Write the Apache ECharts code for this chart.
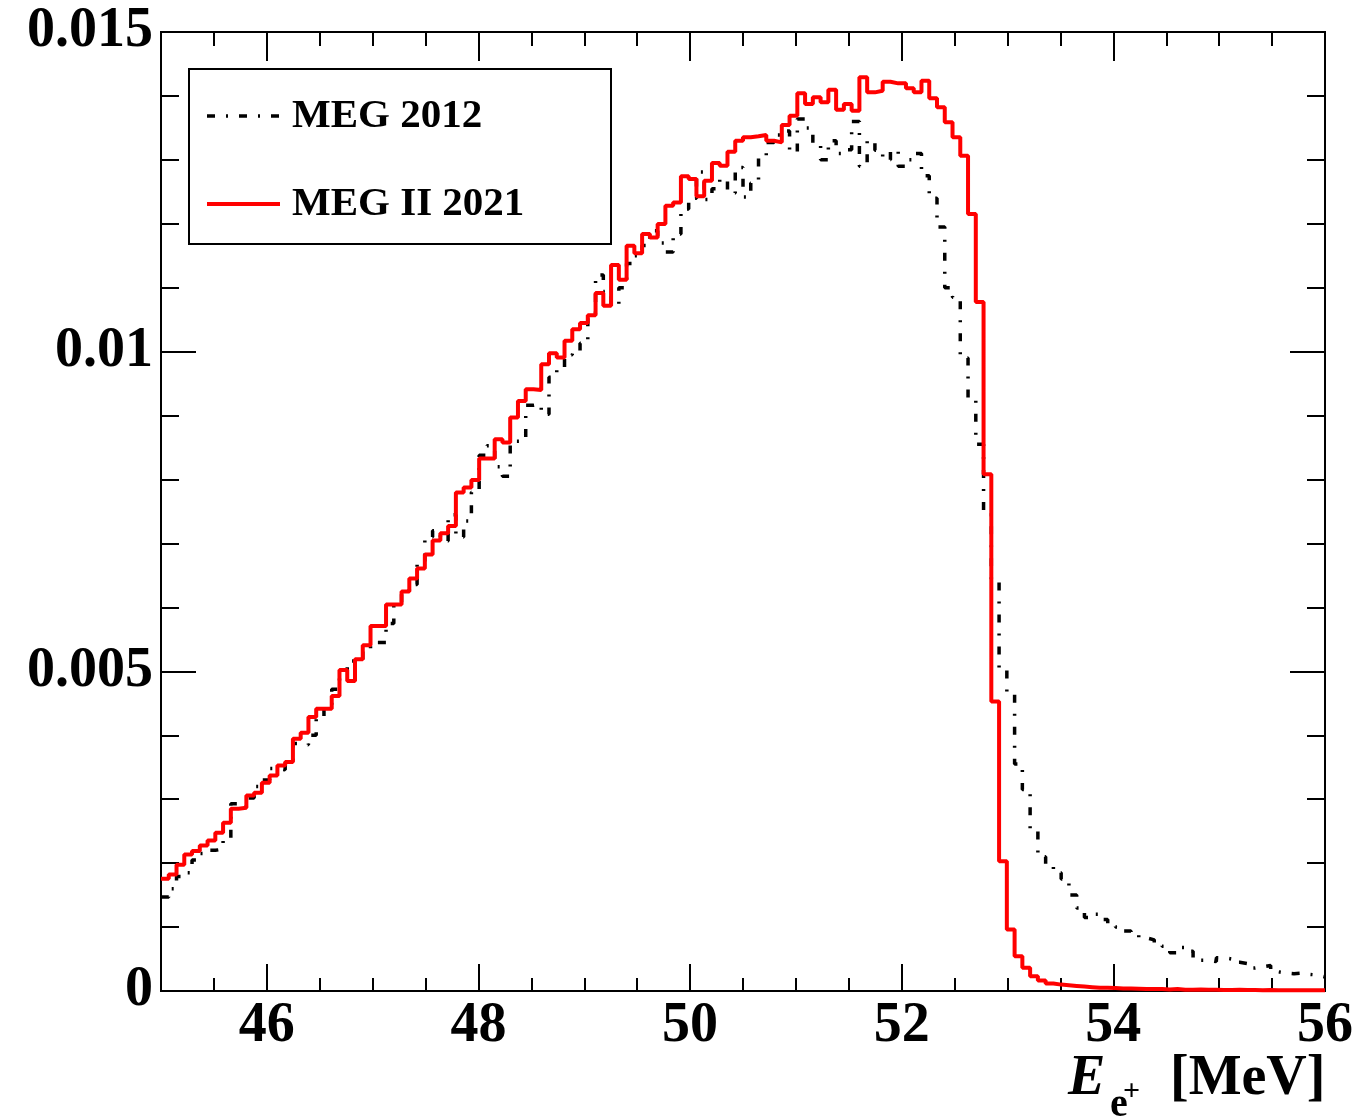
<!DOCTYPE html>
<html>
<head>
<meta charset="utf-8">
<script src="https://cdn.jsdelivr.net/npm/echarts@6/dist/echarts.min.js"></script>
<style>
html,body{margin:0;padding:0;background:#fff;}
#chart{width:1356px;height:1116px;}
</style>
</head>
<body>
<div id="chart"></div>
<script>
// ---- histogram binning (150 bins from 45 to 56 MeV) ----
const binLow = 45;
const binHigh = 56;
const nBins = 150;

// ---- series values (normalised counts per bin) ----
const meg2012 = [
0.00147,0.00160,0.00179,0.00185,0.00205,0.00215,0.00220,0.00222,0.00235,0.00293,
0.00288,0.00302,0.00320,0.00330,0.00348,0.00346,0.00355,0.00387,0.00385,0.00400,
0.00430,0.00448,0.00472,0.00502,0.00516,0.00515,0.00535,0.00545,0.00545,0.00575,
0.00603,0.00625,0.00636,0.00670,0.00710,0.00720,0.00704,0.00745,0.00710,0.00735,
0.00780,0.00838,0.00853,0.00820,0.00805,0.00860,0.00860,0.00916,0.00918,0.00902,
0.00960,0.00975,0.00995,0.01000,0.01013,0.01060,0.01120,0.01094,0.01072,0.01100,
0.01138,0.01150,0.01166,0.01189,0.01170,0.01156,0.01184,0.01223,0.01240,0.01281,
0.01238,0.01255,0.01270,0.01248,0.01288,0.01242,0.01264,0.01306,0.01327,0.01339,
0.01345,0.01312,0.01364,0.01350,0.01323,0.01300,0.01330,0.01310,0.01316,0.01360,
0.01290,0.01330,0.01315,0.01300,0.01315,0.01290,0.01300,0.01310,0.01275,0.01240,
0.01195,0.01100,0.01085,0.00990,0.00925,0.00855,0.00745,0.00640,0.00505,0.00465,
0.00355,0.00315,0.00250,0.00210,0.00195,0.00185,0.00175,0.00150,0.00130,0.00115,
0.00120,0.00112,0.00105,0.00100,0.00094,0.00088,0.00083,0.00080,0.00074,0.00070,
0.00060,0.00068,0.00062,0.00052,0.00048,0.00046,0.00052,0.00050,0.00045,0.00043,
0.00036,0.00038,0.00040,0.00030,0.00028,0.00027,0.00028,0.00026,0.00025,0.00022
];
const megII2021 = [
0.001756,0.001823,0.001975,0.002136,0.002188,0.002277,0.002355,0.002476,0.002632,0.002851,
0.002867,0.003059,0.003102,0.003258,0.003372,0.003529,0.003581,0.003947,0.004041,0.004285,
0.004416,0.004416,0.004613,0.005020,0.004848,0.005188,0.005407,0.005709,0.005709,0.006044,
0.006044,0.006247,0.006451,0.006607,0.006826,0.007045,0.007160,0.007274,0.007797,0.007875,
0.007994,0.008329,0.008329,0.008631,0.008579,0.008970,0.009230,0.009413,0.009402,0.009804,
0.009977,0.009909,0.010169,0.010352,0.010450,0.010571,0.010916,0.010717,0.011354,0.011124,
0.011656,0.011541,0.011839,0.011787,0.011995,0.012282,0.012335,0.012742,0.012700,0.012429,
0.012673,0.012950,0.012908,0.013127,0.013299,0.013353,0.013368,0.013388,0.013299,0.013274,
0.013545,0.013690,0.014041,0.013873,0.013978,0.013900,0.014097,0.013784,0.013873,0.013768,
0.014291,0.014056,0.014081,0.014222,0.014197,0.014197,0.014119,0.014056,0.014238,0.013962,
0.013822,0.013587,0.013352,0.013064,0.012152,0.010775,0.008083,0.004530,0.002031,0.000962,
0.000545,0.000363,0.000232,0.000164,0.000117,0.000100,0.000090,0.000080,0.000070,0.000060,
0.000050,0.000050,0.000045,0.000040,0.000040,0.000035,0.000030,0.000030,0.000030,0.000025,
0.000030,0.000020,0.000020,0.000025,0.000020,0.000020,0.000015,0.000015,0.000020,0.000015,
0.000015,0.000010,0.000015,0.000010,0.000010,0.000010,0.000010,0.000010,0.000010,0.000010
];

// ---- ticks and labels ----
const xMajorTicks = [46, 48, 50, 52, 54, 56];
const xMinorTicks = [45.5, 46.5, 47, 47.5, 48.5, 49, 49.5, 50.5, 51, 51.5, 52.5, 53, 53.5, 54.5, 55, 55.5];
const yTickValues = [0, 0.005, 0.01, 0.015];
const yTickLabels = ['0', '0.005', '0.01', '0.015'];
const seriesNames = ['MEG 2012', 'MEG II 2021'];

function toSteps(vals) {
  const w = (binHigh - binLow) / nBins;
  const pts = vals.map((v, i) => [binLow + i * w, v]);
  pts.push([binHigh, vals[vals.length - 1]]);
  return pts;
}

const FONT = 'Liberation Serif';
const chart = echarts.init(document.getElementById('chart'), null, {renderer: 'canvas'});

function xAx(pos, ticks, len, showLine, showLabel) {
  return {
    type: 'value', position: pos, min: binLow, max: binHigh,
    axisLine: {show: showLine, onZero: false, lineStyle: {color: '#000', width: 2}},
    axisTick: {show: true, inside: true, length: len, customValues: ticks, lineStyle: {color: '#000', width: 2}},
    axisLabel: showLabel ? {show: true, customValues: ticks, margin: 8, color: '#000', fontSize: 56, fontWeight: 'bold', fontFamily: FONT}
                         : {show: false},
    splitLine: {show: false}
  };
}
function yAx(pos, showLabel) {
  return {
    type: 'value', position: pos, min: 0, max: 0.015, interval: 0.005,
    axisLine: {show: true, lineStyle: {color: '#000', width: 2}},
    axisTick: {show: true, inside: true, length: 35, lineStyle: {color: '#000', width: 2}},
    minorTick: {show: true, splitNumber: 5, length: 18, lineStyle: {color: '#000', width: 2}},
    axisLabel: showLabel ? {
      show: true, margin: 8, color: '#000', fontSize: 56, fontWeight: 'bold', fontFamily: FONT,
      formatter: function (v) {
        for (let i = 0; i < yTickValues.length; i++) if (Math.abs(v - yTickValues[i]) < 1e-9) return yTickLabels[i];
        return '';
      }
    } : {show: false},
    splitLine: {show: false}, minorSplitLine: {show: false}
  };
}

const option = {
  animation: false,
  backgroundColor: '#fff',
  grid: {left: 161, right: 31, top: 32, bottom: 125, containLabel: false, outerBoundsMode: 'none',
         show: true, borderColor: '#000', borderWidth: 2, backgroundColor: 'transparent'},
  xAxis: [
    xAx('bottom', xMajorTicks, 27, true, true),
    xAx('bottom', xMinorTicks, 13, false, false),
    xAx('top', xMajorTicks, 29, true, false),
    xAx('top', xMinorTicks, 14, false, false)
  ],
  yAxis: [yAx('left', true), yAx('right', false)],
  legend: {
    orient: 'vertical', left: 205, top: 94, padding: 0,
    itemWidth: 73, itemHeight: 14, itemGap: 44,
    data: [
      {name: seriesNames[0], lineStyle: {width: 3.5}},
      {name: seriesNames[1], lineStyle: {width: 4}}
    ],
    itemStyle: {opacity: 0, borderWidth: 0},
    lineStyle: {width: 'inherit'},
    textStyle: {fontSize: 41, fontWeight: 'bold', fontFamily: FONT, color: '#000', lineHeight: 44, padding: [0, 0, 0, 7]},
    z: 10
  },
  graphic: [
    {type: 'rect', z: 5, shape: {x: 189, y: 69, width: 422, height: 175},
     style: {fill: '#fff', stroke: '#000', lineWidth: 2}},
    {type: 'text', z: 5, x: 1068, y: 1080,
     style: {text: 'E', font: 'italic bold 56px "Liberation Serif"', fill: '#000', verticalAlign: 'middle', align: 'left'}},
    {type: 'text', z: 5, x: 1110, y: 1106,
     style: {text: 'e', font: 'bold 40px "Liberation Serif"', fill: '#000', verticalAlign: 'middle', align: 'left'}},
    {type: 'text', z: 5, x: 1123, y: 1092,
     style: {text: '+', font: 'bold 30px "Liberation Serif"', fill: '#000', verticalAlign: 'middle', align: 'left'}},
    {type: 'text', z: 5, x: 1170, y: 1080,
     style: {text: '[MeV]', font: 'bold 56px "Liberation Serif"', fill: '#000', verticalAlign: 'middle', align: 'left'}}
  ],
  series: [
    {name: seriesNames[0], type: 'line', step: 'end', xAxisIndex: 0, yAxisIndex: 0,
     showSymbol: false, symbol: 'none', data: toSteps(meg2012), z: 2,
     lineStyle: {color: '#000', width: 3.5, type: [8, 11, 2, 11]}, itemStyle: {color: '#000'}},
    {name: seriesNames[1], type: 'line', step: 'end', xAxisIndex: 0, yAxisIndex: 0,
     showSymbol: false, symbol: 'none', data: toSteps(megII2021), z: 3,
     lineStyle: {color: '#ff0000', width: 4, type: 'solid'}, itemStyle: {color: '#ff0000'}}
  ]
};
chart.setOption(option);
</script>
</body>
</html>
